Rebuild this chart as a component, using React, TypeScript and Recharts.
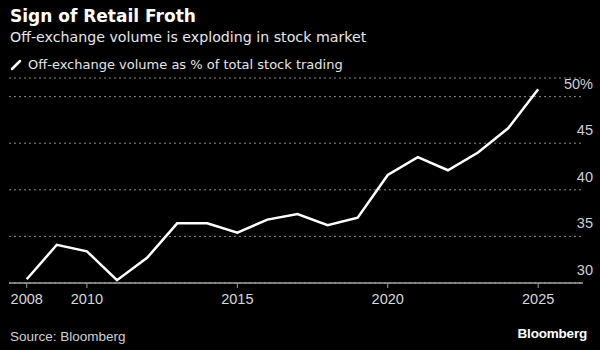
import React from 'react';
import { LineChart, Line, XAxis, YAxis, CartesianGrid } from 'recharts';

const years = [2008, 2009, 2010, 2011, 2012, 2013, 2014, 2015, 2016, 2017, 2018, 2019, 2020, 2021, 2022, 2023, 2024, 2025];
const offExchangeShare = [30.4, 34.1, 33.4, 30.3, 32.7, 36.4, 36.4, 35.4, 36.8, 37.4, 36.2, 37.0, 41.6, 43.5, 42.1, 44.0, 46.6, 50.8];
const xTicks = [2008, 2010, 2015, 2020, 2025];
const yTicks = [30, 35, 40, 45, 50];

const data = years.map((year, i) => ({ year, share: offExchangeShare[i] }));

const headFont = '"DejaVu Sans", sans-serif';
const tickFont = '"Liberation Sans", Arial, sans-serif';

const renderYTick = (props: any) => {
  const { y, payload } = props;
  const label = payload.value === 50 ? '50%' : String(payload.value);
  return (
    <text key={payload.value} x={593} y={y - 8} textAnchor="end" fill="#cfcfcf" fontSize={14.5} fontFamily={tickFont}>
      {label}
    </text>
  );
};

export default function App() {
  return (
    <div style={{ position: 'absolute', left: 0, top: 0, width: 600, height: 350, background: '#000', fontFamily: headFont, overflow: 'hidden' }}>
      <div style={{ position: 'absolute', left: 10, top: 6, color: '#fff', fontSize: 17, fontWeight: 'bold' }}>
        Sign of Retail Froth
      </div>
      <div style={{ position: 'absolute', left: 10, top: 29, color: '#e6e6e6', fontSize: 14.2 }}>
        Off-exchange volume is exploding in stock market
      </div>
      <div style={{ position: 'absolute', left: 10, top: 57, color: '#e6e6e6', fontSize: 13, display: 'flex', alignItems: 'center' }}>
        <svg width={12} height={12} style={{ marginRight: 6 }}>
          <line x1={2} y1={10} x2={10} y2={2} stroke="#fff" strokeWidth={2.5} strokeLinecap="round" />
        </svg>
        Off-exchange volume as % of total stock trading
      </div>

      <div style={{ position: 'absolute', left: 0, top: 0 }}>
        <LineChart width={600} height={350} data={data} margin={{ top: 78, right: 0, bottom: 37, left: 9 }}>
          <CartesianGrid vertical={false} stroke="#8a8a8a" strokeDasharray="2 3" />
          <XAxis
            dataKey="year"
            type="number"
            domain={[2007.41, 2026.49]}
            ticks={xTicks}
            axisLine={{ stroke: '#a0a0a0', strokeWidth: 1.5 }}
            tickLine={{ stroke: '#a0a0a0' }}
            tickSize={5}
            tick={{ fill: '#d8d8d8', fontSize: 14.5, fontFamily: tickFont }}
            tickMargin={6}
            height={30}
          />
          <YAxis
            orientation="right"
            domain={[30, 52]}
            ticks={yTicks}
            axisLine={false}
            tickLine={false}
            width={17}
            tick={renderYTick}
          />
          <Line
            dataKey="share"
            type="linear"
            stroke="#fff"
            strokeWidth={2.5}
            dot={false}
            isAnimationActive={false}
          />
        </LineChart>
      </div>

      <div style={{ position: 'absolute', left: 10, top: 329, color: '#d0d0d0', fontSize: 13.5, fontFamily: tickFont }}>
        Source: Bloomberg
      </div>
      <div style={{ position: 'absolute', right: 13, top: 326, color: '#fff', fontSize: 13.5, fontWeight: 'bold', fontFamily: tickFont, letterSpacing: -0.2 }}>
        Bloomberg
      </div>
    </div>
  );
}
